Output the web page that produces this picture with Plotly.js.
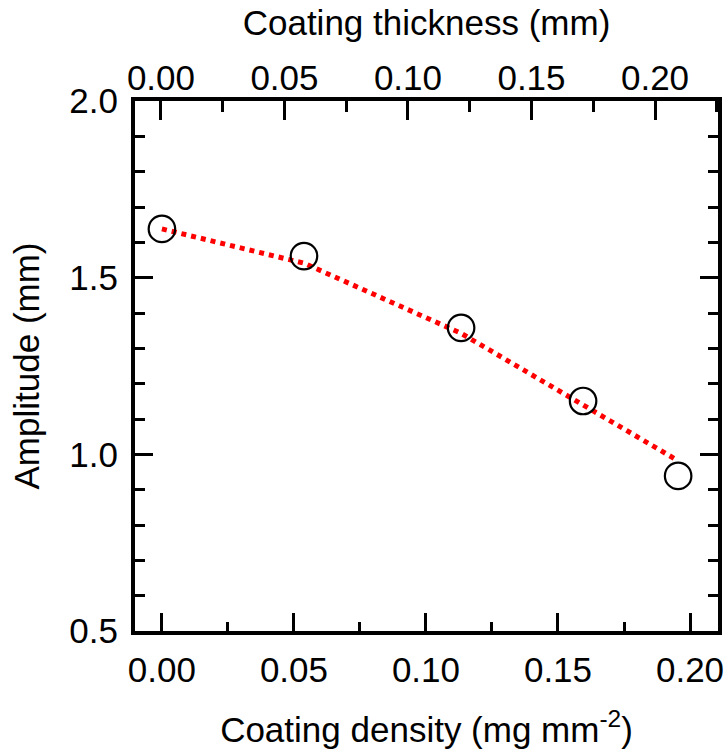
<!DOCTYPE html>
<html>
<head>
<meta charset="utf-8">
<script src="https://cdn.plot.ly/plotly-3.0.1.min.js"></script>
<style>html,body{margin:0;padding:0;background:#fff;}#chart{width:727px;height:753px;}</style>
</head>
<body>
<div id="chart"></div>
<script>
// Measured data (coating density, mg mm^-2) and amplitude (mm)
const densityX = [0.000, 0.0538, 0.1133, 0.1595, 0.1955];
const amplitudeY = [1.638, 1.561, 1.358, 1.151, 0.939];
// Red dotted model curve, read at the same density values
const modelX = [0.000, 0.0538, 0.1133, 0.1595, 0.1950];
const modelY = [1.638, 1.541, 1.3425, 1.1415, 0.984];
// Tick labels
const xTickVals = [0, 0.05, 0.10, 0.15, 0.20];
const xTickText = ["0.00", "0.05", "0.10", "0.15", "0.20"];
const topTickVals = [0, 0.05, 0.10, 0.15, 0.20];
const topTickText = ["0.00", "0.05", "0.10", "0.15", "0.20"];
const yTickVals = [0.5, 1.0, 1.5, 2.0];
const yTickText = ["0.5", "1.0", "1.5", "2.0"];

const FONT = "Liberation Sans, Arial, Helvetica, sans-serif";
const FS_TICK = 35;
const FS_TITLE = 35;
const TOP_RANGE = [-0.0105, 0.2255];

const traces = [
  {
    x: modelX, y: modelY, type: "scatter", mode: "lines",
    line: {color: "#ff0000", width: 5, dash: "dot"},
    hoverinfo: "skip", showlegend: false
  },
  {
    x: densityX, y: amplitudeY, type: "scatter", mode: "markers",
    marker: {symbol: "circle-open", size: 26.5, color: "#000", line: {color: "#000", width: 2.2}},
    showlegend: false
  },
  {
    x: [0], y: [null], xaxis: "x2", yaxis: "y", type: "scatter", mode: "markers",
    hoverinfo: "skip", showlegend: false
  },
  {
    x: [0], y: [null], xaxis: "x3", yaxis: "y", type: "scatter", mode: "markers",
    hoverinfo: "skip", showlegend: false
  }
];

const layout = {
  width: 727, height: 753,
  margin: {l: 135, r: 9, t: 101, b: 122},
  paper_bgcolor: "#fff", plot_bgcolor: "#fff",
  font: {family: FONT, size: FS_TICK, color: "#000"},
  showlegend: false,
  xaxis: {
    range: [-0.0102, 0.2106],
    tickvals: xTickVals, ticktext: xTickText,
    ticks: "inside", ticklen: 18, tickwidth: 3, tickcolor: "#000",
    minor: {ticks: "inside", ticklen: 9, tickwidth: 3, tickcolor: "#000", dtick: 0.025, tick0: 0},
    showline: true, linewidth: 4, linecolor: "#000", mirror: true,
    showgrid: false, zeroline: false,
    tickfont: {family: FONT, size: FS_TICK, color: "#000"},
    ticklabelstandoff: 5,
    title: {text: "Coating density (mg mm<sup>-2</sup>)", font: {family: FONT, size: FS_TITLE, color: "#000"}, standoff: 30},
    automargin: false
  },
  // top axis: labels and title
  xaxis2: {
    overlaying: "x", side: "top", anchor: "free", position: 1,
    range: TOP_RANGE,
    tickvals: topTickVals, ticktext: topTickText,
    ticks: "", showline: false,
    showgrid: false, zeroline: false,
    tickfont: {family: FONT, size: FS_TICK, color: "#000"},
    ticklabelstandoff: 4,
    title: {text: "Coating thickness (mm)", font: {family: FONT, size: FS_TITLE, color: "#000"}, standoff: 10},
    automargin: false
  },
  // top axis: tick marks
  xaxis3: {
    overlaying: "x", side: "top", anchor: "y",
    range: TOP_RANGE,
    tickvals: topTickVals, showticklabels: false,
    ticks: "inside", ticklen: 19, tickwidth: 3, tickcolor: "#000",
    minor: {ticks: "inside", ticklen: 11, tickwidth: 3, tickcolor: "#000", dtick: 0.025, tick0: 0},
    showline: true, linewidth: 4, linecolor: "#000",
    showgrid: false, zeroline: false,
    automargin: false
  },
  yaxis: {
    range: [0.5, 2.0],
    tickvals: yTickVals, ticktext: yTickText,
    ticks: "inside", ticklen: 18, tickwidth: 3, tickcolor: "#000",
    minor: {ticks: "inside", ticklen: 10, tickwidth: 3, tickcolor: "#000", dtick: 0.1, tick0: 0.5},
    showline: true, linewidth: 4, linecolor: "#000", mirror: "ticks",
    showgrid: false, zeroline: false,
    tickfont: {family: FONT, size: FS_TICK, color: "#000"},
    ticklabelstandoff: 6,
    title: {text: "Amplitude (mm)", font: {family: FONT, size: FS_TITLE, color: "#000"}, standoff: 20},
    automargin: false
  }
};

Plotly.newPlot("chart", traces, layout, {displayModeBar: false, staticPlot: true});
</script>
</body>
</html>
